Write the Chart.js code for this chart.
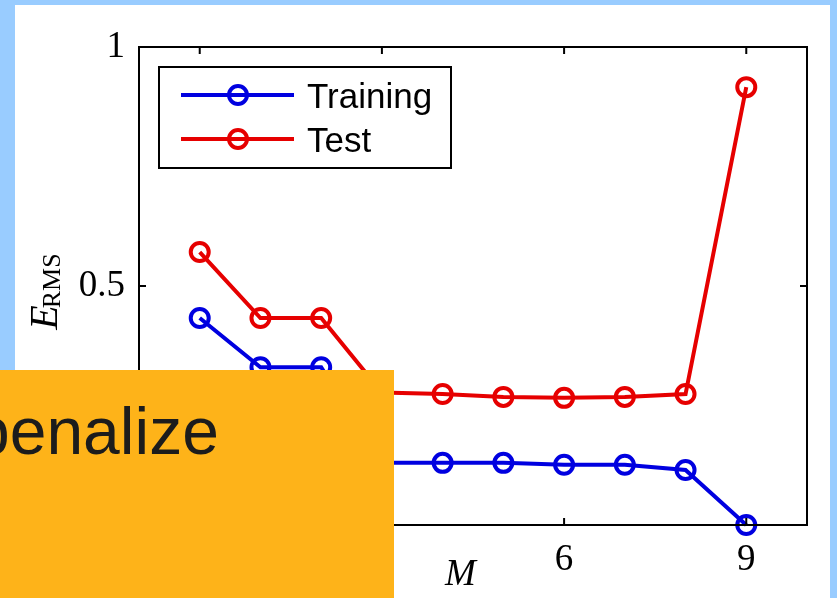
<!DOCTYPE html>
<html>
<head>
<meta charset="utf-8">
<script src="https://cdn.jsdelivr.net/npm/chart.js@4.4.0/dist/chart.umd.min.js"></script>
<style>
html, body { margin: 0; padding: 0; }
body { width: 837px; height: 598px; background: #99ccff; position: relative; overflow: hidden; }
#panel { position: absolute; left: 15px; top: 5px; width: 815px; height: 593px; background: #fff; }
#overlay { position: absolute; left: 0; top: 370px; width: 394px; height: 228px; background: #feb319; overflow: hidden; }
#overlay span { position: absolute; left: -27px; top: 28px; font: 66px/66px "Liberation Sans", Arial, sans-serif; color: #1c1c1c; white-space: nowrap; }
</style>
</head>
<body>
<div id="panel"><canvas id="chart" width="815" height="593"></canvas></div>
<div id="overlay"><span>penalize</span></div>
<script>
// DATA
const orders = [0, 1, 2, 3, 4, 5, 6, 7, 8, 9];
const trainingErr = [0.433, 0.33, 0.33, 0.13, 0.13, 0.13, 0.126, 0.126, 0.115, 0.0];
const testErr = [0.571, 0.433, 0.433, 0.277, 0.274, 0.268, 0.266, 0.268, 0.274, 0.916];
const seriesNames = ['Training', 'Test'];
const seriesColors = ['#0000e0', '#e60000'];
const xTicks = [0, 3, 6, 9];
const yTicks = [0, 0.5, 1];

const serif = '"Liberation Serif", "Times New Roman", serif';
const sans = '"Liberation Sans", Arial, sans-serif';

function toPoints(values) {
    return orders.map((m, i) => ({ x: m, y: values[i] }));
}

// box + inward ticks, MATLAB style
const matlabFrame = {
    id: 'matlabFrame',
    afterDatasetsDraw(chart) {
        const { ctx, chartArea: a, scales: { x, y } } = chart;
        ctx.save();
        ctx.strokeStyle = '#000';
        ctx.lineWidth = 2;
        ctx.strokeRect(a.left, a.top, a.right - a.left, a.bottom - a.top);
        ctx.beginPath();
        x.ticks.forEach(t => {
            const px = x.getPixelForValue(t.value);
            ctx.moveTo(px, a.bottom); ctx.lineTo(px, a.bottom - 7);
            ctx.moveTo(px, a.top); ctx.lineTo(px, a.top + 7);
        });
        y.ticks.forEach(t => {
            const py = y.getPixelForValue(t.value);
            ctx.moveTo(a.left, py); ctx.lineTo(a.left + 7, py);
            ctx.moveTo(a.right, py); ctx.lineTo(a.right - 7, py);
        });
        ctx.stroke();
        ctx.restore();
    }
};

// legend inside a black box at top-left of plot
const boxLegend = {
    id: 'boxLegend',
    afterDraw(chart) {
        const { ctx, chartArea: a } = chart;
        const left = a.left + 20, top = a.top + 20, w = 292, h = 101;
        ctx.save();
        ctx.fillStyle = '#fff';
        ctx.fillRect(left, top, w, h);
        ctx.strokeStyle = '#000';
        ctx.lineWidth = 2;
        ctx.strokeRect(left, top, w, h);
        chart.data.datasets.forEach((ds, i) => {
            const ry = top + 28 + i * 44;
            ctx.strokeStyle = ds.borderColor;
            ctx.lineWidth = 4;
            ctx.beginPath();
            ctx.moveTo(left + 22, ry);
            ctx.lineTo(left + 135, ry);
            ctx.stroke();
            ctx.beginPath();
            ctx.arc(left + 79, ry, 9, 0, Math.PI * 2);
            ctx.stroke();
            ctx.fillStyle = '#000';
            ctx.font = '35px ' + sans;
            ctx.textAlign = 'left';
            ctx.textBaseline = 'alphabetic';
            ctx.fillText(ds.label, left + 148, ry + 13);
        });
        ctx.restore();
    }
};

// axis titles: E_RMS and M
const axisTitles = {
    id: 'axisTitles',
    afterDraw(chart) {
        const { ctx, chartArea: a } = chart;
        ctx.save();
        ctx.fillStyle = '#000';
        ctx.textAlign = 'left';
        ctx.textBaseline = 'alphabetic';
        ctx.font = 'italic 37px ' + serif;
        ctx.fillText('M', (a.left + a.right) / 2 - 28, a.bottom + 60);

        ctx.translate(42, (a.top + a.bottom) / 2 + 4);
        ctx.rotate(-Math.PI / 2);
        ctx.font = 'italic 40px ' + serif;
        const wE = ctx.measureText('E').width;
        ctx.font = '26px ' + serif;
        const wR = ctx.measureText('RMS').width;
        const start = -(wE + wR) / 2;
        ctx.font = 'italic 40px ' + serif;
        ctx.fillText('E', start, 0);
        ctx.font = '26px ' + serif;
        ctx.fillText('RMS', start + wE - 3, 3);
        ctx.restore();
    }
};

const datasets = [trainingErr, testErr].map((vals, i) => ({
    label: seriesNames[i],
    data: toPoints(vals),
    borderColor: seriesColors[i],
    backgroundColor: seriesColors[i],
    borderWidth: 4,
    tension: 0,
    pointStyle: 'circle',
    pointRadius: 9,
    pointBorderWidth: 4,
    pointBackgroundColor: 'rgba(0,0,0,0)',
    pointBorderColor: seriesColors[i],
    clip: false
}));

new Chart(document.getElementById('chart'), {
    type: 'line',
    data: { datasets: datasets },
    options: {
        responsive: false,
        animation: false,
        devicePixelRatio: 1,
        layout: { padding: { left: 0, right: 23, top: 42, bottom: 0 } },
        plugins: { legend: { display: false }, tooltip: { enabled: false } },
        scales: {
            x: {
                type: 'linear',
                min: -1, max: 10,
                grid: { display: false, drawTicks: false },
                border: { display: false },
                afterBuildTicks: s => { s.ticks = xTicks.map(v => ({ value: v })); },
                afterFit: s => { s.height = 73; },
                ticks: {
                    font: { family: serif, size: 37 }, color: '#000',
                    padding: 13, maxRotation: 0, autoSkip: false,
                    callback: v => String(v)
                }
            },
            y: {
                type: 'linear',
                min: 0, max: 1,
                grid: { display: false, drawTicks: false },
                border: { display: false },
                afterBuildTicks: s => { s.ticks = yTicks.map(v => ({ value: v })); },
                afterFit: s => { s.width = 124; },
                ticks: {
                    font: { family: serif, size: 37 }, color: '#000',
                    padding: 14, autoSkip: false,
                    callback: v => String(v)
                }
            }
        }
    },
    plugins: [matlabFrame, boxLegend, axisTitles]
});
</script>
</body>
</html>
